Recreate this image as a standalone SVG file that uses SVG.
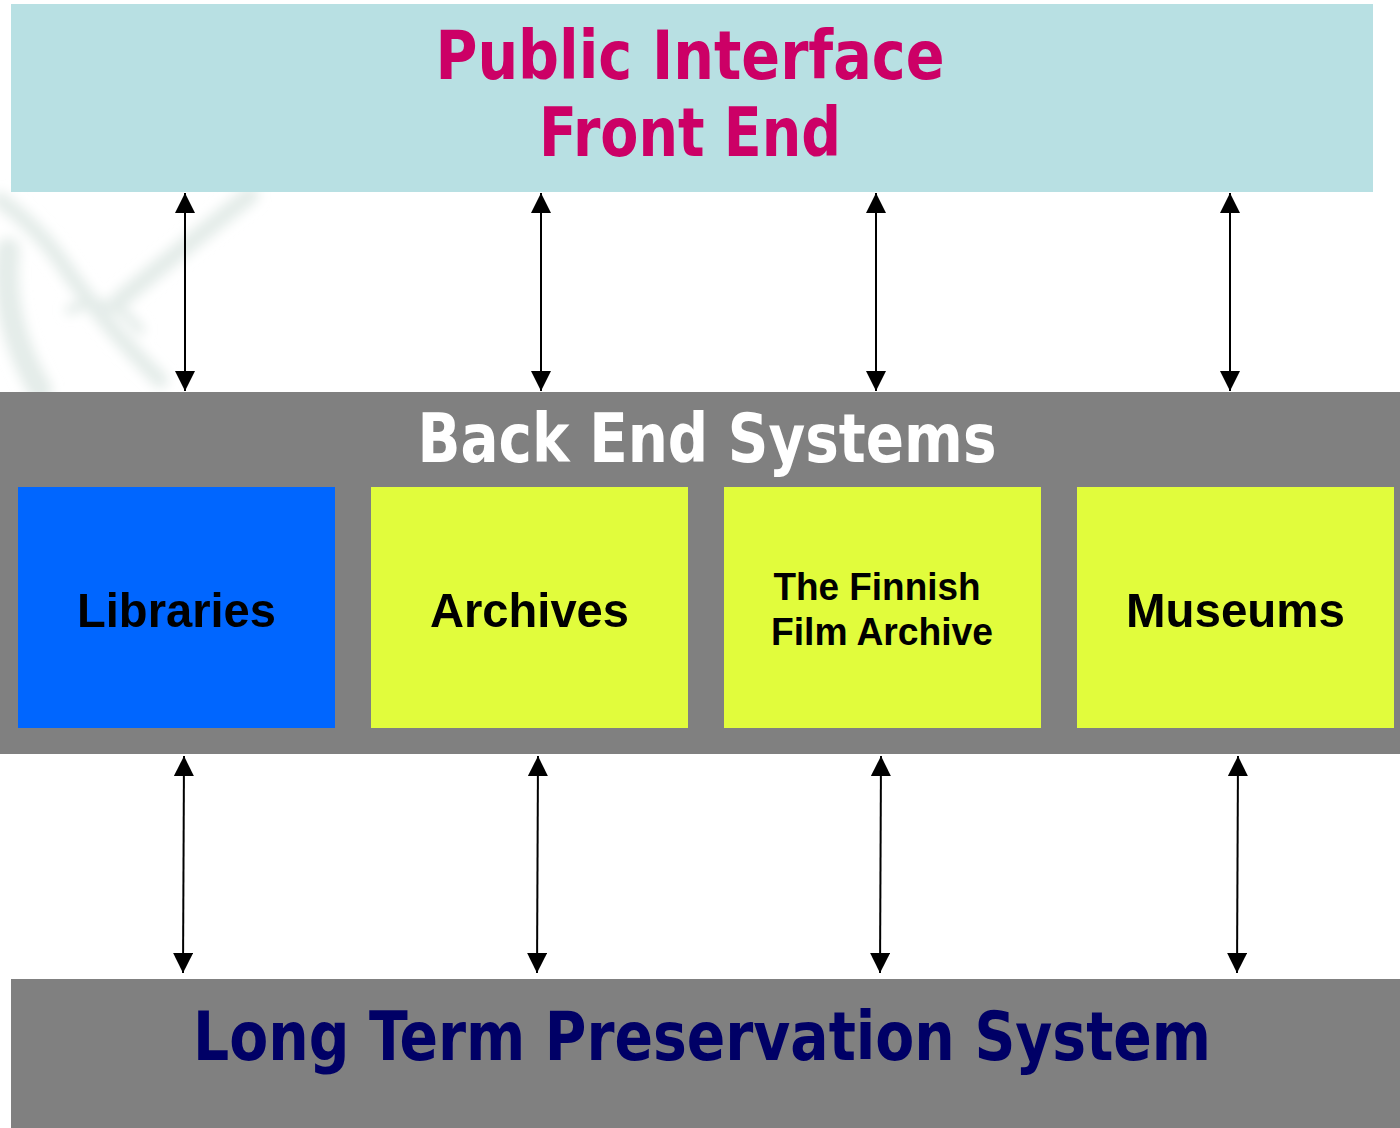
<svg xmlns="http://www.w3.org/2000/svg" width="1400" height="1128" viewBox="0 0 1400 1128">
<defs>
<style>
.title{font-family:"DejaVu Sans Condensed","DejaVu Sans","Liberation Sans",sans-serif;font-weight:bold;font-size:67px;text-anchor:middle}
.box{font-family:"Liberation Sans",Arial,sans-serif;font-weight:bold;text-anchor:middle;fill:#000}
.conn{stroke:#000;stroke-width:2;fill:none;marker-start:url(#ah);marker-end:url(#ah)}
</style>
<marker id="ah" markerUnits="userSpaceOnUse" markerWidth="20" markerHeight="20" refX="20" refY="10" orient="auto-start-reverse">
<path d="M0,0 L20,10 L0,20 z" fill="#000"/>
</marker>
<filter id="blur" x="-20%" y="-20%" width="140%" height="140%"><feGaussianBlur stdDeviation="6"/></filter>
</defs>
<rect width="1400" height="1128" fill="#fff"/>
<g id="watermark" filter="url(#blur)" fill="none" stroke="#e4ece9" stroke-linecap="round">
<path d="M0,200 Q35,225 60,260 Q100,320 160,380" stroke-width="16"/>
<path d="M120,300 Q180,250 250,195" stroke-width="18"/>
<path d="M8,250 Q0,320 40,390" stroke-width="24"/>
<path d="M70,310 Q110,290 140,330" stroke-width="10"/>
</g>
<g id="front-end">
<rect x="11" y="4" width="1362" height="188" fill="#b8e0e3"/>
<text class="title" x="690" y="79" fill="#cc0066" textLength="509" lengthAdjust="spacingAndGlyphs">Public Interface</text>
<text class="title" x="690" y="156" fill="#cc0066" textLength="302" lengthAdjust="spacingAndGlyphs">Front End</text>
</g>
<g id="back-end">
<rect x="0" y="392" width="1400" height="362" fill="#808080"/>
<text class="title" x="707" y="462" fill="#fff" textLength="579" lengthAdjust="spacingAndGlyphs">Back End Systems</text>
</g>
<g id="libraries">
<rect x="18" y="487" width="317" height="241" fill="#0066ff"/>
<text class="box" x="176.5" y="627" font-size="49" textLength="199" lengthAdjust="spacingAndGlyphs">Libraries</text>
</g>
<g id="archives">
<rect x="371" y="487" width="317" height="241" fill="#e1fc3c"/>
<text class="box" x="529.5" y="627" font-size="49" textLength="199" lengthAdjust="spacingAndGlyphs">Archives</text>
</g>
<g id="finnish-film-archive">
<rect x="724" y="487" width="317" height="241" fill="#e1fc3c"/>
<text class="box" x="877" y="600" font-size="38" textLength="207" lengthAdjust="spacingAndGlyphs">The Finnish</text>
<text class="box" x="882" y="645" font-size="38" textLength="222" lengthAdjust="spacingAndGlyphs">Film Archive</text>
</g>
<g id="museums">
<rect x="1077" y="487" width="317" height="241" fill="#e1fc3c"/>
<text class="box" x="1235.5" y="627" font-size="49" textLength="219" lengthAdjust="spacingAndGlyphs">Museums</text>
</g>
<g id="long-term-preservation">
<rect x="11" y="979" width="1389" height="149" fill="#808080"/>
<text class="title" x="702" y="1060" fill="#000066" textLength="1018" lengthAdjust="spacingAndGlyphs">Long Term Preservation System</text>
</g>
<g id="connectors">
<line class="conn" x1="185" y1="193" x2="185" y2="391"/>
<line class="conn" x1="541" y1="193" x2="541" y2="391"/>
<line class="conn" x1="876" y1="193" x2="876" y2="391"/>
<line class="conn" x1="1230" y1="193" x2="1230" y2="391"/>
<line class="conn" x1="184" y1="756" x2="183" y2="973"/>
<line class="conn" x1="538" y1="756" x2="537" y2="973"/>
<line class="conn" x1="881" y1="756" x2="880" y2="973"/>
<line class="conn" x1="1238" y1="756" x2="1237" y2="973"/>
</g>
</svg>
